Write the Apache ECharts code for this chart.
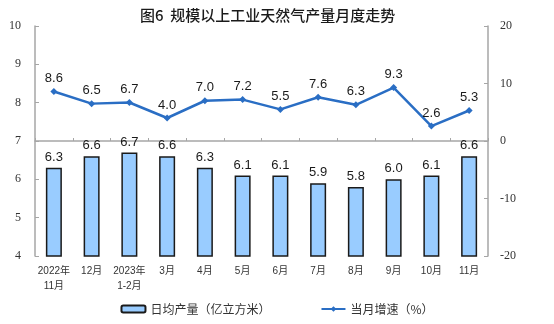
<!DOCTYPE html>
<html><head><meta charset="utf-8">
<script src="https://cdn.jsdelivr.net/npm/echarts@6/dist/echarts.min.js"></script>
<style>html,body{margin:0;padding:0;background:#fff}#c{width:554px;height:324px}</style>
</head><body><div id="c"></div>
<script>
const categories = ['2022年\n11月','12月','2023年\n1-2月','3月','4月','5月','6月','7月','8月','9月','10月','11月'];
const dailyOutput = [6.3, 6.6, 6.7, 6.6, 6.3, 6.1, 6.1, 5.9, 5.8, 6.0, 6.1, 6.6];
const growthRate = [8.6, 6.5, 6.7, 4.0, 7.0, 7.2, 5.5, 7.6, 6.3, 9.3, 2.6, 5.3];
const leftTicks = [4, 10, 1];
const rightTicks = [-20, 20, 10];

const chart = echarts.init(document.getElementById('c'), null, {renderer:'canvas'});
const axisLine = {show:true, lineStyle:{color:'#a6a6a6', width:1.5}};
chart.setOption({
  animation:false,
  title:{text:'图6  规模以上工业天然气产量月度走势', left:135, top:3,
    textStyle:{fontFamily:'Noto Sans CJK SC', fontSize:15, fontWeight:500, color:'#1a1a1a'}},
  grid:{left:35, right:66, top:26, bottom:68},
  legend:{bottom:4, left:'center', itemGap:50, itemWidth:24, itemHeight:7,
    textStyle:{fontFamily:'Noto Sans CJK SC', fontSize:12, color:'#333'},
    data:[
      {name:'日均产量（亿立方米）', icon:'roundRect'},
      {name:'当月增速（%）'}
    ]},
  xAxis:{type:'category', data:categories, axisLine:axisLine,
    axisTick:{show:true, inside:true, length:3, lineStyle:{color:'#a6a6a6'}},
    axisLabel:{fontFamily:'Liberation Sans, Noto Sans CJK SC', fontSize:10, color:'#333', lineHeight:15, margin:8, interval:0}},
  yAxis:[
    {type:'value', min:leftTicks[0], max:leftTicks[1], interval:leftTicks[2], splitLine:{show:false},
      axisLine:axisLine, axisTick:{show:true, inside:true, length:4, lineStyle:{color:'#a6a6a6'}},
      axisLabel:{fontFamily:'Liberation Serif', fontSize:12, color:'#333', margin:14}},
    {type:'value', min:rightTicks[0], max:rightTicks[1], interval:rightTicks[2], splitLine:{show:false},
      axisLine:axisLine, axisTick:{show:true, inside:true, length:4, lineStyle:{color:'#a6a6a6'}},
      axisLabel:{fontFamily:'Liberation Serif', fontSize:12, color:'#333', margin:12}}
  ],
  series:[
    {name:'日均产量（亿立方米）', type:'bar', data:dailyOutput, barWidth:16,
      itemStyle:{color:'#99CCFF', borderColor:'#1a1a1a', borderWidth:1.5},
      label:{show:true, position:'top', distance:4, fontFamily:'Liberation Sans', fontSize:13, color:'#1a1a1a',
        formatter:p=>p.value.toFixed(1)}},
    {name:'当月增速（%）', type:'line', yAxisIndex:1, data:growthRate,
      symbol:'diamond', symbolSize:7,
      lineStyle:{color:'#2A6EC4', width:2.5}, itemStyle:{color:'#2A6EC4'},
      label:{show:true, position:'top', distance:3, fontFamily:'Liberation Sans', fontSize:13, color:'#1a1a1a',
        formatter:p=>p.value.toFixed(1)}}
  ]
});
</script></body></html>
